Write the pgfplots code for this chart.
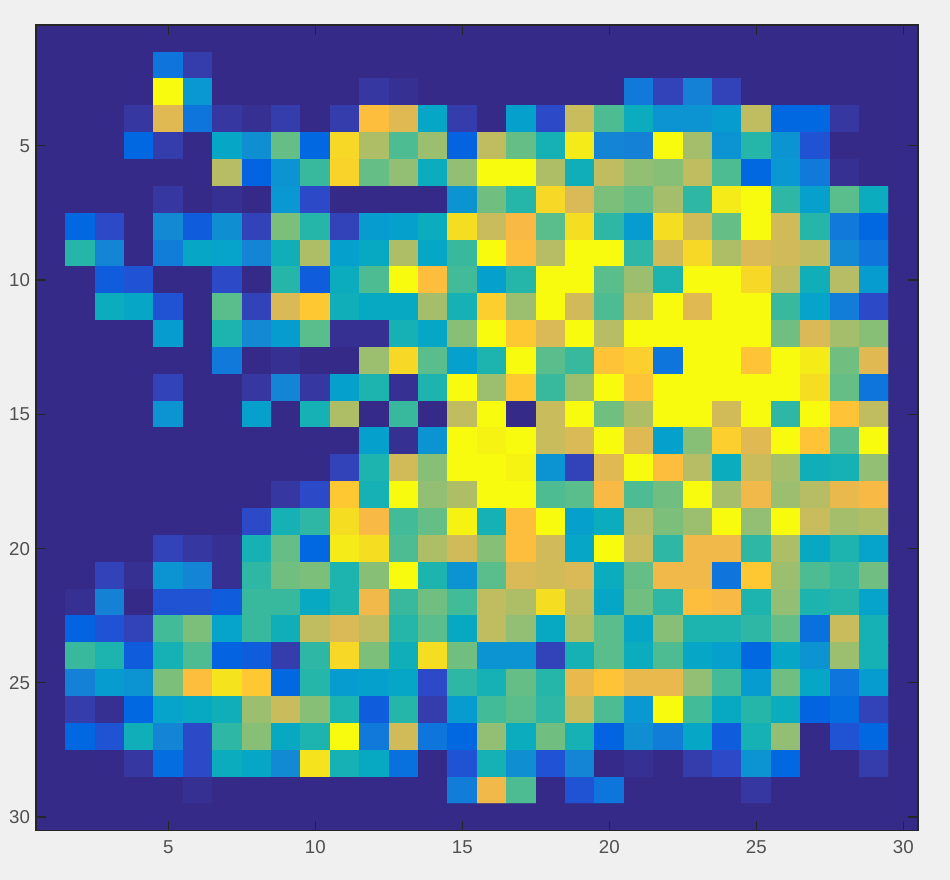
\documentclass[border=0pt]{standalone}
\usepackage{fontspec}
\setmainfont{Liberation Sans}
\usepackage{pgfplots}
\pgfplotsset{compat=1.18}
\definecolor{figbg}{RGB}{240,240,240}
\definecolor{axdark}{RGB}{38,38,38}
\definecolor{ticktext}{RGB}{80,80,80}
\definecolor{parulalow}{rgb}{0.2081,0.1663,0.5292}
\pgfplotsset{
  colormap={parula}{
    rgb=(0.2081,0.1663,0.5292) rgb=(0.2116,0.1898,0.5777) rgb=(0.2123,0.2138,0.6270) rgb=(0.2081,0.2386,0.6771)
    rgb=(0.1959,0.2645,0.7279) rgb=(0.1707,0.2919,0.7792) rgb=(0.1253,0.3242,0.8303) rgb=(0.0591,0.3598,0.8683)
    rgb=(0.0117,0.3875,0.8820) rgb=(0.0060,0.4086,0.8828) rgb=(0.0165,0.4266,0.8786) rgb=(0.0329,0.4430,0.8720)
    rgb=(0.0498,0.4586,0.8641) rgb=(0.0629,0.4737,0.8554) rgb=(0.0723,0.4887,0.8467) rgb=(0.0779,0.5040,0.8384)
    rgb=(0.0793,0.5200,0.8312) rgb=(0.0749,0.5375,0.8263) rgb=(0.0641,0.5570,0.8240) rgb=(0.0488,0.5772,0.8228)
    rgb=(0.0343,0.5966,0.8199) rgb=(0.0265,0.6137,0.8135) rgb=(0.0239,0.6287,0.8038) rgb=(0.0231,0.6418,0.7913)
    rgb=(0.0228,0.6535,0.7768) rgb=(0.0267,0.6642,0.7607) rgb=(0.0384,0.6743,0.7436) rgb=(0.0590,0.6838,0.7254)
    rgb=(0.0843,0.6928,0.7062) rgb=(0.1133,0.7015,0.6859) rgb=(0.1453,0.7098,0.6646) rgb=(0.1801,0.7177,0.6424)
    rgb=(0.2178,0.7250,0.6193) rgb=(0.2586,0.7317,0.5954) rgb=(0.3022,0.7376,0.5712) rgb=(0.3482,0.7424,0.5473)
    rgb=(0.3953,0.7459,0.5244) rgb=(0.4420,0.7481,0.5033) rgb=(0.4871,0.7491,0.4840) rgb=(0.5300,0.7491,0.4661)
    rgb=(0.5709,0.7485,0.4494) rgb=(0.6099,0.7473,0.4337) rgb=(0.6473,0.7456,0.4188) rgb=(0.6834,0.7435,0.4044)
    rgb=(0.7184,0.7411,0.3905) rgb=(0.7525,0.7384,0.3768) rgb=(0.7858,0.7356,0.3633) rgb=(0.8185,0.7327,0.3498)
    rgb=(0.8507,0.7299,0.3360) rgb=(0.8824,0.7274,0.3217) rgb=(0.9139,0.7258,0.3063) rgb=(0.9450,0.7261,0.2886)
    rgb=(0.9739,0.7314,0.2666) rgb=(0.9938,0.7455,0.2403) rgb=(0.9990,0.7653,0.2164) rgb=(0.9955,0.7861,0.1967)
    rgb=(0.9880,0.8066,0.1794) rgb=(0.9789,0.8271,0.1633) rgb=(0.9697,0.8481,0.1475) rgb=(0.9626,0.8705,0.1309)
    rgb=(0.9589,0.8949,0.1132) rgb=(0.9598,0.9218,0.0948) rgb=(0.9661,0.9514,0.0755) rgb=(0.9763,0.9831,0.0538)
  }
}
\begin{document}
\begin{tikzpicture}
\fill[figbg] (0pt,0pt) rectangle (712.5pt,660pt);
\begin{axis}[
  at={(27pt,37.125pt)}, anchor=south west,
  scale only axis, width=661.5pt, height=604.125pt,
  xmin=0.5, xmax=30.5, ymin=0.5, ymax=30.5, y dir=reverse,
  axis on top,
  axis background/.style={fill=parulalow},
  colormap name=parula, point meta min=0, point meta max=63,
  xtick={5,10,15,20,25,30}, ytick={5,10,15,20,25,30},
  tick align=inside, major tick length=7.5pt,
  axis line style={draw=axdark, line width=1.1pt},
  tick style={draw=axdark, line width=0.9pt},
  tick label style={font=\fontsize{14}{16}\selectfont, text=ticktext},
  /pgf/number format/assume math mode=true,
  xticklabel style={yshift=-4pt},
  yticklabel style={xshift=-1pt},
]
\addplot[matrix plot*, mesh/cols=30, point meta=explicit]
  table[row sep=\\, x expr={mod(\coordindex,30)+1}, y expr={floor((\coordindex+0.5)/30)+1}, meta=c] {
c\\
0\\0\\0\\0\\0\\0\\0\\0\\0\\0\\0\\0\\0\\0\\0\\0\\0\\0\\0\\0\\0\\0\\0\\0\\0\\0\\0\\0\\0\\0\\
0\\0\\0\\0\\12\\3\\0\\0\\0\\0\\0\\0\\0\\0\\0\\0\\0\\0\\0\\0\\0\\0\\0\\0\\0\\0\\0\\0\\0\\0\\
0\\0\\0\\0\\63\\20\\0\\0\\0\\0\\0\\2\\1\\0\\0\\0\\0\\0\\0\\0\\13\\4\\15\\4\\0\\0\\0\\0\\0\\0\\
0\\0\\0\\2\\49\\12\\2\\1\\3\\0\\3\\53\\49\\24\\3\\0\\22\\5\\46\\34\\26\\19\\19\\21\\45\\9\\9\\2\\0\\0\\
0\\0\\0\\9\\3\\0\\24\\18\\36\\9\\58\\43\\34\\41\\8\\45\\36\\28\\61\\16\\15\\63\\42\\19\\30\\19\\6\\0\\0\\0\\
0\\0\\0\\0\\0\\0\\44\\8\\19\\32\\57\\36\\40\\26\\40\\63\\63\\43\\27\\45\\40\\39\\45\\34\\9\\20\\13\\1\\0\\0\\
0\\0\\0\\0\\2\\0\\1\\0\\20\\5\\0\\0\\0\\0\\19\\37\\30\\58\\48\\38\\36\\42\\31\\61\\63\\31\\22\\35\\26\\0\\
0\\9\\5\\0\\17\\7\\18\\4\\38\\30\\4\\21\\22\\26\\59\\46\\52\\35\\59\\31\\21\\59\\47\\36\\63\\47\\30\\13\\9\\0\\
0\\30\\16\\0\\14\\24\\23\\16\\27\\43\\22\\25\\43\\24\\32\\63\\53\\44\\63\\63\\31\\47\\58\\43\\48\\47\\45\\17\\12\\0\\
0\\0\\7\\6\\0\\0\\5\\0\\30\\7\\26\\34\\63\\53\\33\\22\\30\\63\\63\\35\\41\\29\\63\\63\\58\\45\\27\\44\\21\\0\\
0\\0\\26\\24\\6\\0\\35\\4\\48\\55\\27\\25\\25\\42\\28\\56\\41\\63\\47\\34\\45\\63\\49\\63\\63\\32\\23\\14\\5\\0\\
0\\0\\0\\0\\21\\0\\29\\17\\21\\35\\1\\1\\28\\24\\39\\63\\55\\48\\63\\44\\63\\63\\63\\63\\63\\37\\48\\42\\39\\0\\
0\\0\\0\\0\\0\\0\\13\\0\\1\\0\\0\\41\\58\\35\\22\\29\\63\\35\\32\\54\\56\\12\\63\\63\\54\\63\\61\\37\\49\\0\\
0\\0\\0\\0\\4\\0\\0\\2\\16\\2\\22\\29\\1\\29\\63\\41\\55\\32\\41\\63\\54\\63\\63\\63\\63\\63\\59\\36\\12\\0\\
0\\0\\0\\0\\19\\0\\0\\22\\0\\28\\43\\0\\32\\0\\45\\63\\0\\46\\63\\37\\43\\63\\63\\47\\63\\31\\63\\54\\45\\0\\
0\\0\\0\\0\\0\\0\\0\\0\\0\\0\\0\\22\\1\\19\\63\\62\\63\\46\\48\\63\\49\\22\\39\\56\\49\\63\\54\\35\\63\\0\\
0\\0\\0\\0\\0\\0\\0\\0\\0\\0\\4\\29\\47\\39\\63\\63\\62\\19\\4\\49\\63\\53\\44\\26\\46\\42\\27\\28\\40\\0\\
0\\0\\0\\0\\0\\0\\0\\0\\2\\5\\55\\28\\63\\40\\43\\63\\63\\34\\35\\52\\34\\37\\63\\42\\51\\41\\44\\50\\52\\0\\
0\\0\\0\\0\\0\\0\\0\\5\\28\\31\\59\\52\\33\\36\\62\\28\\53\\63\\22\\26\\44\\38\\41\\63\\40\\63\\46\\42\\43\\0\\
0\\0\\0\\0\\4\\2\\1\\28\\36\\9\\61\\59\\34\\43\\47\\39\\53\\47\\24\\63\\46\\31\\51\\51\\31\\43\\25\\29\\23\\0\\
0\\0\\4\\1\\19\\16\\1\\31\\37\\38\\29\\39\\63\\29\\19\\35\\48\\47\\48\\26\\36\\51\\51\\12\\55\\41\\34\\32\\37\\0\\
0\\1\\15\\0\\6\\6\\7\\32\\32\\25\\29\\51\\32\\37\\33\\45\\43\\59\\45\\24\\37\\31\\53\\52\\29\\40\\29\\30\\23\\0\\
0\\8\\6\\4\\33\\38\\23\\32\\27\\45\\48\\45\\30\\35\\25\\45\\40\\25\\43\\35\\24\\39\\29\\29\\31\\36\\11\\46\\28\\0\\
0\\32\\29\\7\\28\\34\\8\\7\\3\\31\\58\\38\\27\\59\\37\\19\\19\\4\\28\\35\\26\\34\\24\\22\\9\\24\\19\\41\\28\\0\\
0\\15\\21\\19\\38\\53\\60\\55\\9\\30\\21\\22\\24\\5\\31\\28\\36\\30\\50\\54\\50\\50\\40\\33\\21\\37\\24\\12\\21\\0\\
0\\3\\1\\9\\23\\25\\27\\41\\46\\39\\29\\7\\30\\3\\21\\33\\35\\31\\46\\34\\20\\63\\33\\25\\30\\26\\8\\10\\4\\0\\
0\\9\\6\\27\\16\\5\\31\\39\\25\\29\\63\\13\\47\\12\\9\\40\\26\\37\\28\\8\\18\\14\\24\\7\\28\\40\\0\\6\\9\\0\\
0\\0\\0\\2\\10\\5\\26\\24\\17\\60\\28\\25\\11\\0\\6\\28\\18\\6\\16\\0\\1\\0\\3\\5\\19\\9\\0\\0\\3\\0\\
0\\0\\0\\0\\0\\1\\0\\0\\0\\0\\0\\0\\0\\0\\14\\51\\34\\0\\6\\12\\0\\0\\0\\0\\2\\0\\0\\0\\0\\0\\
0\\0\\0\\0\\0\\0\\0\\0\\0\\0\\0\\0\\0\\0\\0\\0\\0\\0\\0\\0\\0\\0\\0\\0\\0\\0\\0\\0\\0\\0\\
};
\end{axis}
\end{tikzpicture}
\end{document}
